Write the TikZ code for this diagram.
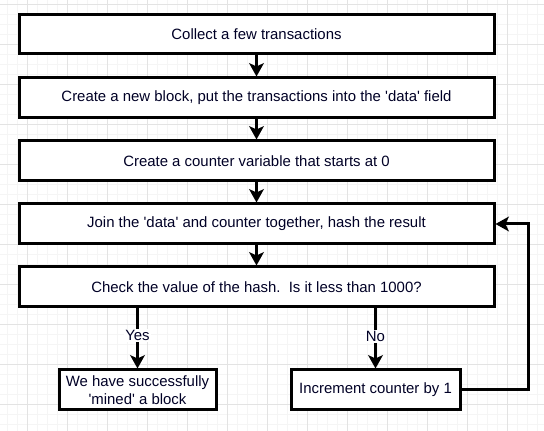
\documentclass[tikz,border=0pt]{standalone}
\usepackage{fontspec}
\setmainfont{Liberation Sans}
\usetikzlibrary{arrows.meta,calc}
\newcommand{\sq}{\textquotesingle}
\tikzset{
  x=0.75pt, y=-0.75pt,
  box/.style={draw=black, line width=2.25pt, fill=white, rectangle, inner sep=0pt, align=center, font=\fontsize{11.2}{13}\selectfont, text=black!85!blue},
  arr/.style={line width=2.25pt, -{Stealth[length=10pt, width=11pt, inset=2.5pt]}},
  lbl/.style={fill=white, inner sep=1pt, font=\fontsize{11.2}{13}\selectfont, text=black!85!blue},
  minorgrid/.style={draw=black!4, line width=0.75pt},
  majorgrid/.style={draw=black!11, line width=0.75pt},
}
\begin{document}
\begin{tikzpicture}
\useasboundingbox (0,0) rectangle (544,431);
\fill[white] (0,0) rectangle (544,431);
% grid
\foreach \x in {7,17,...,544} \draw[minorgrid] (\x,0) -- (\x,431);
\foreach \y in {5,15,...,431} \draw[minorgrid] (0,\y) -- (544,\y);
\foreach \x in {27,67,...,544} \draw[majorgrid] (\x,0) -- (\x,431);
\foreach \y in {5,45,...,431} \draw[majorgrid] (0,\y) -- (544,\y);
% boxes
\node[box, minimum width=475*0.75pt, minimum height=39*0.75pt] (n1) at (256.5,34.5) {Collect a few transactions};
\node[box, minimum width=475*0.75pt, minimum height=40*0.75pt] (n2) at (256.5,98) {Create a new block, put the transactions into the \sq data\sq\ field};
\node[box, minimum width=475*0.75pt, minimum height=40*0.75pt] (n3) at (256.5,161) {Create a counter variable that starts at 0};
\node[box, minimum width=475*0.75pt, minimum height=40*0.75pt] (n4) at (256.5,224) {Join the \sq data\sq\ and counter together, hash the result};
\node[box, minimum width=475*0.75pt, minimum height=40*0.75pt] (n5) at (256.5,287) {Check the value of the hash.\ \ Is it less than 1000?};
\node[box, minimum width=157*0.75pt, minimum height=40*0.75pt] (ny) at (137.5,390) {We have successfully\\\sq mined\sq\ a block};
\node[box, minimum width=169*0.75pt, minimum height=40*0.75pt] (ni) at (375.5,390) {Increment counter by 1};
% connectors
\draw[arr] (n1) -- (n2);
\draw[arr] (n2) -- (n3);
\draw[arr] (n3) -- (n4);
\draw[arr] (n4) -- (n5);
\draw[arr] (n5.south -| ny.north) -- node[lbl, pos=0.45] {Yes} (ny.north);
\draw[arr] (n5.south -| ni.north) -- node[lbl, pos=0.47] {No} (ni.north);
\draw[arr] (ni.east) -- ++(67,0) |- (n4.east);
\end{tikzpicture}
\end{document}
